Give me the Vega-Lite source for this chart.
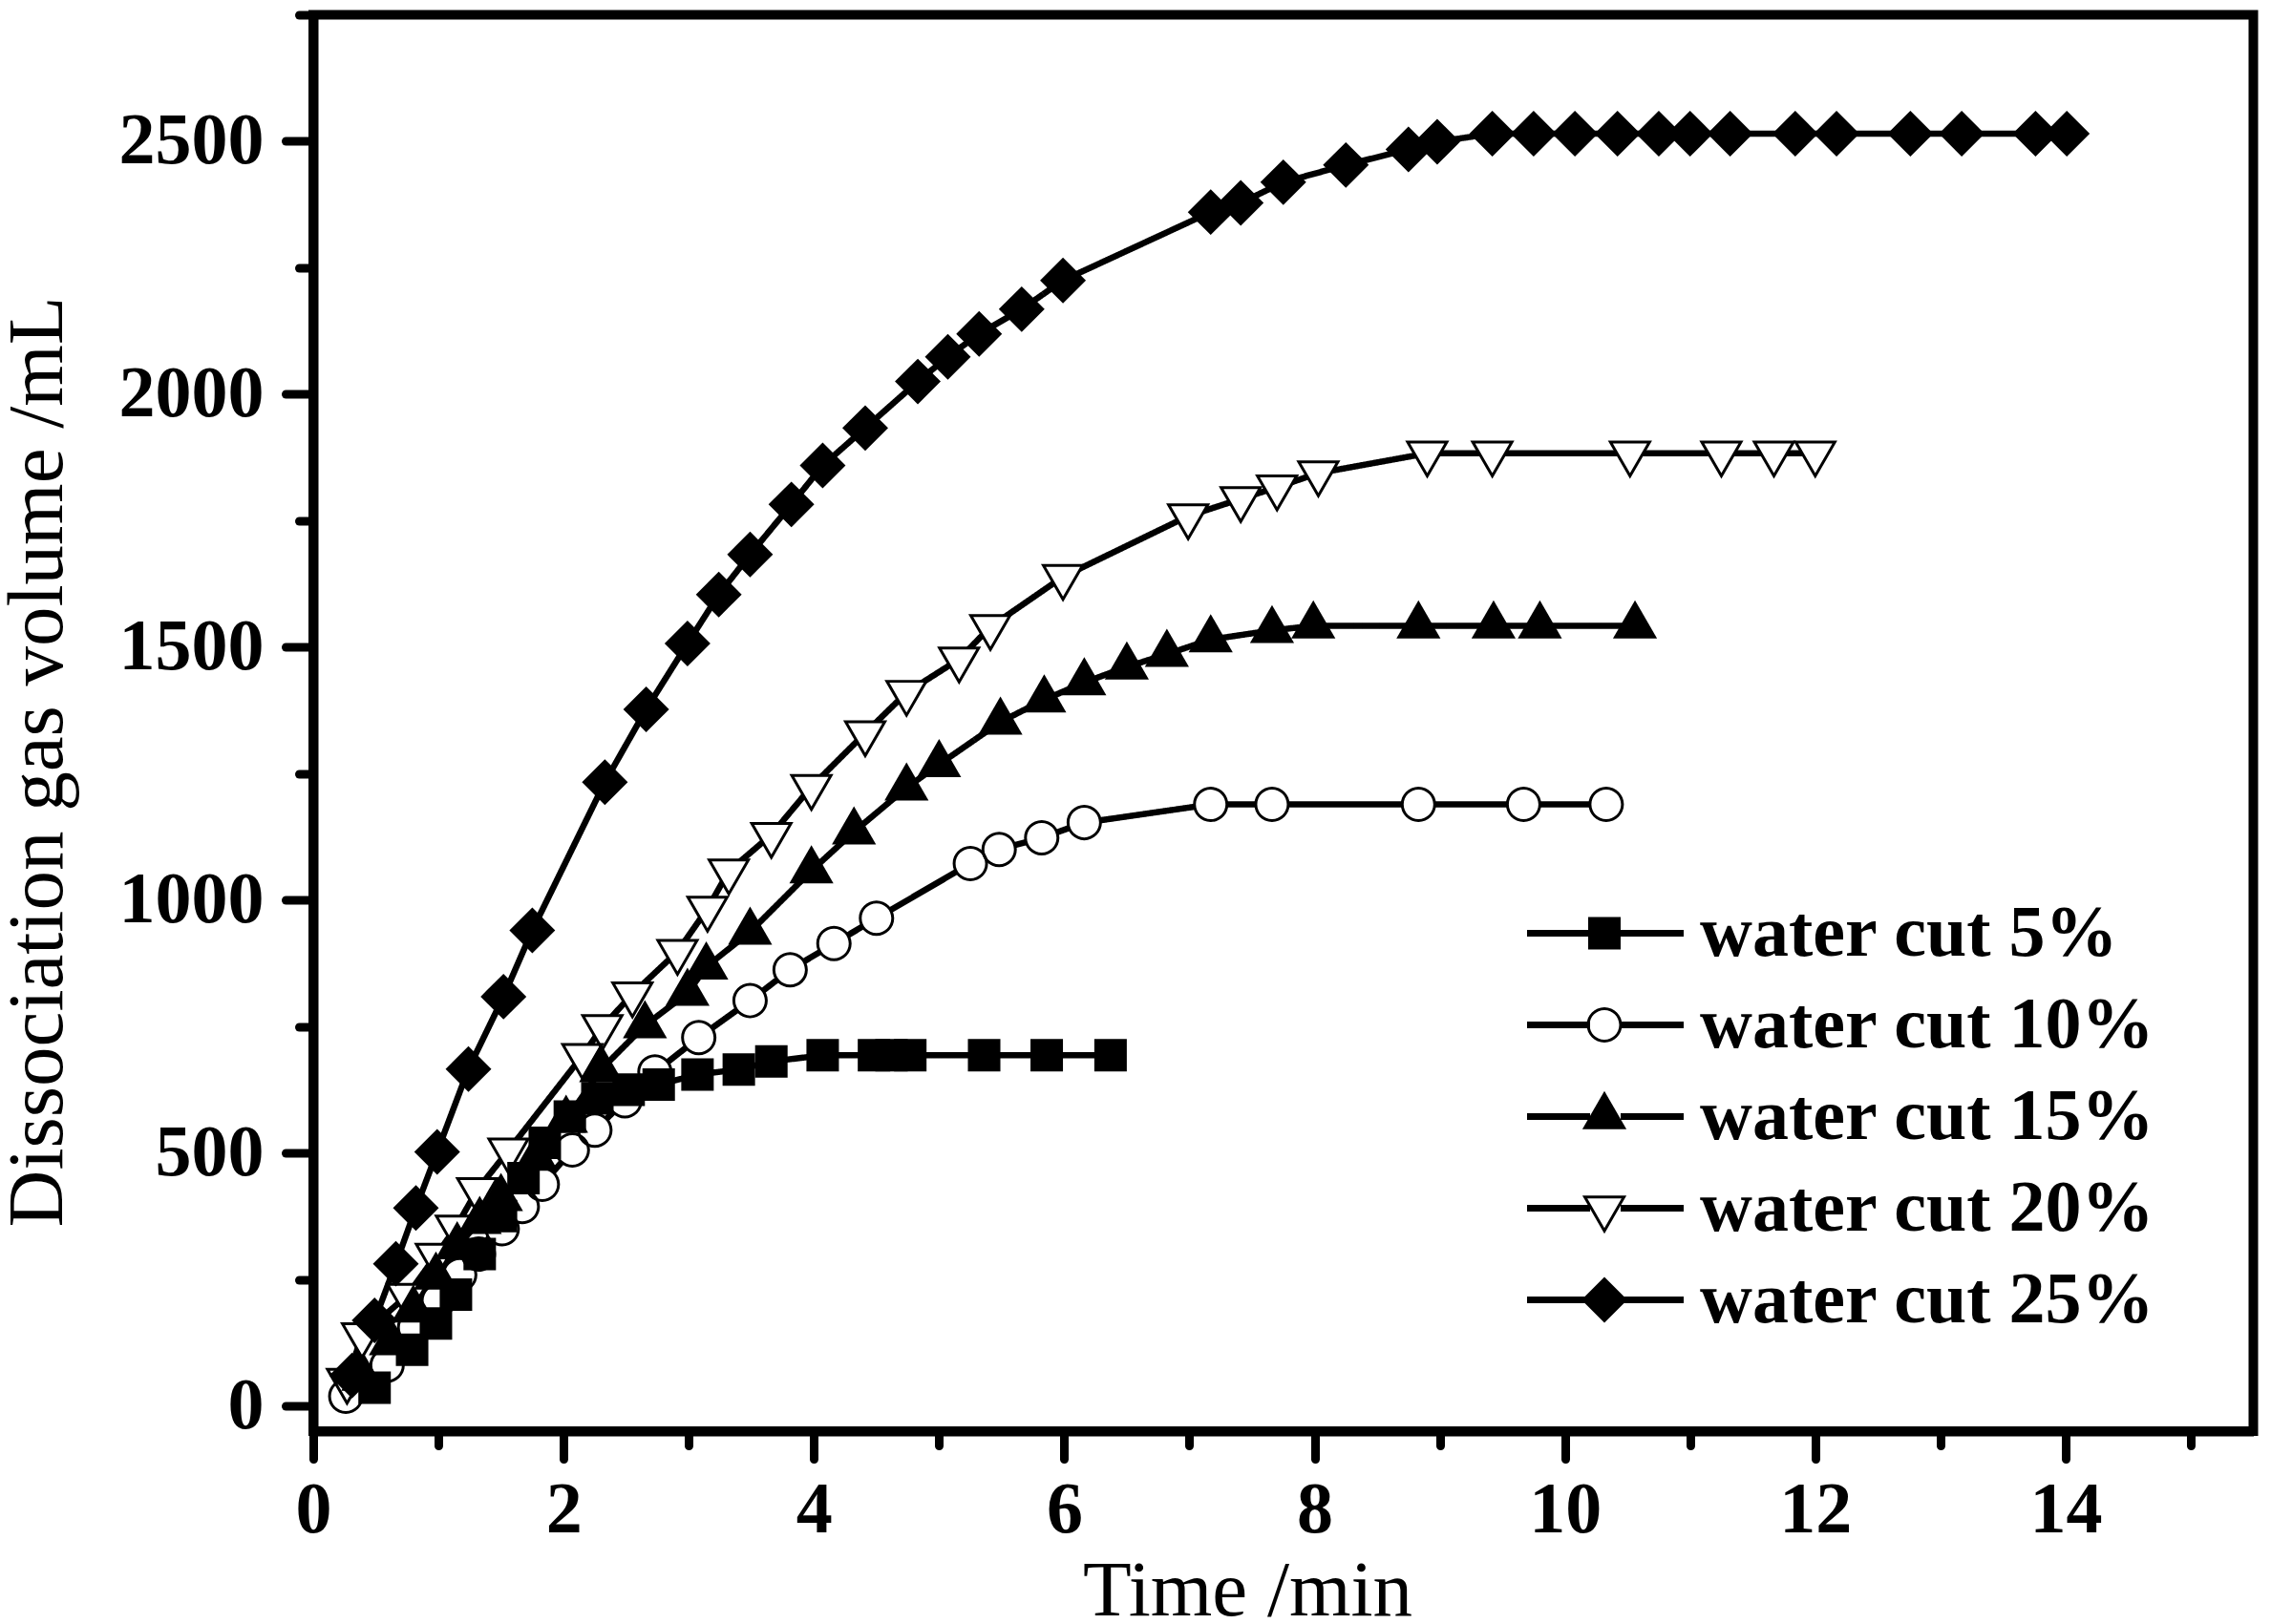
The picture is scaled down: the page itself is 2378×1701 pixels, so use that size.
{
  "$schema": "https://vega.github.io/schema/vega-lite/v6.json",
  "autosize": {"type": "none"},
  "padding": {"left": 328, "top": 15.5, "right": 18.5, "bottom": 202},
  "width": 2031.5,
  "height": 1483.5,
  "background": "white",
  "data": {
    "values": [
      {"series": "water cut 5%", "t": 0.49, "v": 36},
      {"series": "water cut 5%", "t": 0.79, "v": 111},
      {"series": "water cut 5%", "t": 0.98, "v": 163},
      {"series": "water cut 5%", "t": 1.14, "v": 220},
      {"series": "water cut 5%", "t": 1.33, "v": 300},
      {"series": "water cut 5%", "t": 1.5, "v": 375},
      {"series": "water cut 5%", "t": 1.68, "v": 450},
      {"series": "water cut 5%", "t": 1.85, "v": 520},
      {"series": "water cut 5%", "t": 2.05, "v": 572},
      {"series": "water cut 5%", "t": 2.27, "v": 608},
      {"series": "water cut 5%", "t": 2.52, "v": 625},
      {"series": "water cut 5%", "t": 2.76, "v": 635},
      {"series": "water cut 5%", "t": 3.07, "v": 655},
      {"series": "water cut 5%", "t": 3.4, "v": 665},
      {"series": "water cut 5%", "t": 3.66, "v": 681},
      {"series": "water cut 5%", "t": 4.07, "v": 693},
      {"series": "water cut 5%", "t": 4.48, "v": 693},
      {"series": "water cut 5%", "t": 4.62, "v": 693},
      {"series": "water cut 5%", "t": 4.77, "v": 693},
      {"series": "water cut 5%", "t": 5.36, "v": 693},
      {"series": "water cut 5%", "t": 5.86, "v": 693},
      {"series": "water cut 5%", "t": 6.37, "v": 693},
      {"series": "water cut 10%", "t": 0.26, "v": 19},
      {"series": "water cut 10%", "t": 0.59, "v": 80},
      {"series": "water cut 10%", "t": 0.81, "v": 155},
      {"series": "water cut 10%", "t": 1.0, "v": 208},
      {"series": "water cut 10%", "t": 1.17, "v": 259},
      {"series": "water cut 10%", "t": 1.32, "v": 300},
      {"series": "water cut 10%", "t": 1.51, "v": 350},
      {"series": "water cut 10%", "t": 1.67, "v": 394},
      {"series": "water cut 10%", "t": 1.83, "v": 438},
      {"series": "water cut 10%", "t": 2.07, "v": 506},
      {"series": "water cut 10%", "t": 2.25, "v": 545},
      {"series": "water cut 10%", "t": 2.49, "v": 603},
      {"series": "water cut 10%", "t": 2.73, "v": 660},
      {"series": "water cut 10%", "t": 3.08, "v": 728},
      {"series": "water cut 10%", "t": 3.49, "v": 801},
      {"series": "water cut 10%", "t": 3.81, "v": 862},
      {"series": "water cut 10%", "t": 4.16, "v": 914},
      {"series": "water cut 10%", "t": 4.5, "v": 964},
      {"series": "water cut 10%", "t": 5.25, "v": 1072},
      {"series": "water cut 10%", "t": 5.48, "v": 1100},
      {"series": "water cut 10%", "t": 5.82, "v": 1123},
      {"series": "water cut 10%", "t": 6.16, "v": 1153},
      {"series": "water cut 10%", "t": 7.17, "v": 1189},
      {"series": "water cut 10%", "t": 7.66, "v": 1189},
      {"series": "water cut 10%", "t": 8.83, "v": 1189},
      {"series": "water cut 10%", "t": 9.67, "v": 1189},
      {"series": "water cut 10%", "t": 10.33, "v": 1189},
      {"series": "water cut 15%", "t": 0.4, "v": 55},
      {"series": "water cut 15%", "t": 0.62, "v": 125},
      {"series": "water cut 15%", "t": 0.8, "v": 190},
      {"series": "water cut 15%", "t": 0.98, "v": 255},
      {"series": "water cut 15%", "t": 1.15, "v": 315},
      {"series": "water cut 15%", "t": 1.33, "v": 365},
      {"series": "water cut 15%", "t": 1.5, "v": 410},
      {"series": "water cut 15%", "t": 1.78, "v": 490},
      {"series": "water cut 15%", "t": 2.02, "v": 565},
      {"series": "water cut 15%", "t": 2.3, "v": 665},
      {"series": "water cut 15%", "t": 2.65, "v": 752},
      {"series": "water cut 15%", "t": 2.99, "v": 816},
      {"series": "water cut 15%", "t": 3.14, "v": 868},
      {"series": "water cut 15%", "t": 3.49, "v": 937},
      {"series": "water cut 15%", "t": 3.98, "v": 1058},
      {"series": "water cut 15%", "t": 4.32, "v": 1135},
      {"series": "water cut 15%", "t": 4.74, "v": 1222},
      {"series": "water cut 15%", "t": 5.0, "v": 1268},
      {"series": "water cut 15%", "t": 5.49, "v": 1352},
      {"series": "water cut 15%", "t": 5.84, "v": 1396},
      {"series": "water cut 15%", "t": 6.16, "v": 1430},
      {"series": "water cut 15%", "t": 6.5, "v": 1461},
      {"series": "water cut 15%", "t": 6.82, "v": 1486},
      {"series": "water cut 15%", "t": 7.17, "v": 1515},
      {"series": "water cut 15%", "t": 7.66, "v": 1533},
      {"series": "water cut 15%", "t": 7.99, "v": 1542},
      {"series": "water cut 15%", "t": 8.83, "v": 1542},
      {"series": "water cut 15%", "t": 9.43, "v": 1542},
      {"series": "water cut 15%", "t": 9.8, "v": 1542},
      {"series": "water cut 15%", "t": 10.56, "v": 1542},
      {"series": "water cut 20%", "t": 0.27, "v": 50},
      {"series": "water cut 20%", "t": 0.39, "v": 140},
      {"series": "water cut 20%", "t": 0.75, "v": 218},
      {"series": "water cut 20%", "t": 0.98, "v": 297},
      {"series": "water cut 20%", "t": 1.14, "v": 353},
      {"series": "water cut 20%", "t": 1.31, "v": 427},
      {"series": "water cut 20%", "t": 1.56, "v": 505},
      {"series": "water cut 20%", "t": 2.15, "v": 692},
      {"series": "water cut 20%", "t": 2.31, "v": 749},
      {"series": "water cut 20%", "t": 2.55, "v": 814},
      {"series": "water cut 20%", "t": 2.91, "v": 898},
      {"series": "water cut 20%", "t": 3.15, "v": 983},
      {"series": "water cut 20%", "t": 3.32, "v": 1057},
      {"series": "water cut 20%", "t": 3.66, "v": 1129},
      {"series": "water cut 20%", "t": 3.98, "v": 1224},
      {"series": "water cut 20%", "t": 4.41, "v": 1330},
      {"series": "water cut 20%", "t": 4.74, "v": 1410},
      {"series": "water cut 20%", "t": 5.16, "v": 1476},
      {"series": "water cut 20%", "t": 5.41, "v": 1540},
      {"series": "water cut 20%", "t": 5.99, "v": 1639},
      {"series": "water cut 20%", "t": 6.99, "v": 1759},
      {"series": "water cut 20%", "t": 7.41, "v": 1793},
      {"series": "water cut 20%", "t": 7.7, "v": 1816},
      {"series": "water cut 20%", "t": 8.03, "v": 1844},
      {"series": "water cut 20%", "t": 8.9, "v": 1883},
      {"series": "water cut 20%", "t": 9.42, "v": 1883},
      {"series": "water cut 20%", "t": 10.52, "v": 1883},
      {"series": "water cut 20%", "t": 11.25, "v": 1883},
      {"series": "water cut 20%", "t": 11.67, "v": 1883},
      {"series": "water cut 20%", "t": 12.0, "v": 1883},
      {"series": "water cut 25%", "t": 0.31, "v": 60},
      {"series": "water cut 25%", "t": 0.49, "v": 169},
      {"series": "water cut 25%", "t": 0.66, "v": 281},
      {"series": "water cut 25%", "t": 0.82, "v": 391},
      {"series": "water cut 25%", "t": 0.99, "v": 502},
      {"series": "water cut 25%", "t": 1.24, "v": 666},
      {"series": "water cut 25%", "t": 1.52, "v": 809},
      {"series": "water cut 25%", "t": 1.75, "v": 940},
      {"series": "water cut 25%", "t": 2.33, "v": 1233},
      {"series": "water cut 25%", "t": 2.66, "v": 1377},
      {"series": "water cut 25%", "t": 2.99, "v": 1507},
      {"series": "water cut 25%", "t": 3.24, "v": 1604},
      {"series": "water cut 25%", "t": 3.49, "v": 1683},
      {"series": "water cut 25%", "t": 3.82, "v": 1782},
      {"series": "water cut 25%", "t": 4.07, "v": 1859},
      {"series": "water cut 25%", "t": 4.41, "v": 1933},
      {"series": "water cut 25%", "t": 4.83, "v": 2025},
      {"series": "water cut 25%", "t": 5.07, "v": 2074},
      {"series": "water cut 25%", "t": 5.32, "v": 2119},
      {"series": "water cut 25%", "t": 5.66, "v": 2168},
      {"series": "water cut 25%", "t": 5.99, "v": 2225},
      {"series": "water cut 25%", "t": 7.17, "v": 2360},
      {"series": "water cut 25%", "t": 7.41, "v": 2378},
      {"series": "water cut 25%", "t": 7.75, "v": 2419},
      {"series": "water cut 25%", "t": 8.25, "v": 2453},
      {"series": "water cut 25%", "t": 8.75, "v": 2484},
      {"series": "water cut 25%", "t": 8.98, "v": 2499},
      {"series": "water cut 25%", "t": 9.42, "v": 2515},
      {"series": "water cut 25%", "t": 9.75, "v": 2515},
      {"series": "water cut 25%", "t": 10.08, "v": 2515},
      {"series": "water cut 25%", "t": 10.42, "v": 2515},
      {"series": "water cut 25%", "t": 10.75, "v": 2515},
      {"series": "water cut 25%", "t": 11.0, "v": 2515},
      {"series": "water cut 25%", "t": 11.32, "v": 2515},
      {"series": "water cut 25%", "t": 11.84, "v": 2515},
      {"series": "water cut 25%", "t": 12.17, "v": 2515},
      {"series": "water cut 25%", "t": 12.76, "v": 2515},
      {"series": "water cut 25%", "t": 13.17, "v": 2515},
      {"series": "water cut 25%", "t": 13.76, "v": 2515},
      {"series": "water cut 25%", "t": 14.01, "v": 2515}
    ]
  },
  "layer": [
    {
      "mark": {"type": "line", "color": "black", "strokeWidth": 6.5},
      "encoding": {
        "x": {
          "field": "t", "type": "quantitative",
          "scale": {"domain": [0, 15.5], "nice": false, "zero": false},
          "axis": {
            "orient": "bottom",
            "values": [0, 2, 4, 6, 8, 10, 12, 14],
            "format": "d",
            "tickSize": 29, "labelPadding": 16,
            "title": "Time /min",
            "titleX": 978, "titleY": 192, "titleBaseline": "alphabetic", "titleAlign": "center"
          }
        },
        "y": {
          "field": "v", "type": "quantitative",
          "scale": {"domain": [-50, 2750], "nice": false, "zero": false},
          "axis": {
            "orient": "left",
            "values": [0, 500, 1000, 1500, 2000, 2500],
            "format": "d",
            "tickSize": 29, "labelPadding": 23,
            "title": "Dissociation gas volume /mL",
            "titleX": -264, "titleY": 782, "titleAngle": 270, "titleBaseline": "alphabetic", "titleAlign": "center"
          }
        },
        "strokeDash": {
          "field": "series", "type": "nominal", "sort": null,
          "scale": {"range": [[1, 0], [1, 0], [1, 0], [1, 0], [1, 0]]},
          "legend": {
            "orient": "none", "legendX": 1315, "legendY": 924,
            "title": null, "padding": 0,
            "symbolType": "M-4,0L-0.78,0M0.78,0L4,0", "symbolSize": 1681,
            "symbolStrokeWidth": 7, "symbolStrokeColor": "black",
            "labelOpacity": 0, "labelFont": "Liberation Serif", "labelFontWeight": "bold", "labelFontSize": 76,
            "labelOffset": 62, "rowPadding": 20
          }
        }
      }
    },
    {
      "mark": {"type": "point", "filled": true, "fill": "white", "strokeWidth": 0, "opacity": 1, "size": 1936},
      "encoding": {
        "x": {
          "field": "t", "type": "quantitative",
          "axis": {"orient": "bottom", "values": [1, 3, 5, 7, 9, 11, 13, 15], "tickSize": 15, "labels": false, "domain": false, "title": null}
        },
        "y": {
          "field": "v", "type": "quantitative",
          "axis": {"orient": "left", "values": [250, 750, 1250, 1750, 2250, 2750], "tickSize": 15, "labels": false, "domain": false, "title": null}
        },
        "shape": {
          "field": "series", "type": "nominal",
          "scale": {
            "domain": ["water cut 5%", "water cut 10%", "water cut 15%", "water cut 20%", "water cut 25%"],
            "range": [
              "M-0.705,-0.705L0.705,-0.705L0.705,0.705L-0.705,0.705Z",
              "M-0.78,0A0.78,0.78 0 1,0 0.78,0A0.78,0.78 0 1,0 -0.78,0Z",
              "M0,-1.076L-0.932,0.538L0.932,0.538Z",
              "M0,1.1L-0.95,-0.55L0.95,-0.55Z",
              "M-1,0L0,-1L1,0L0,1Z"
            ]
          },
          "legend": null
        }
      }
    },
    {
      "mark": {"type": "point", "filled": true, "color": "black", "opacity": 1, "size": 1936},
      "encoding": {
        "x": {"field": "t", "type": "quantitative", "axis": null},
        "y": {"field": "v", "type": "quantitative", "axis": null},
        "shape": {
          "field": "series", "type": "nominal",
          "scale": {
            "domain": ["water cut 5%", "water cut 10%", "water cut 15%", "water cut 20%", "water cut 25%"],
            "range": [
              "M-0.773,-0.773L0.773,-0.773L0.773,0.773L-0.773,0.773Z",
              "M-0.841,0A0.841,0.841 0 1,0 0.841,0A0.841,0.841 0 1,0 -0.841,0Z M-0.705,0A0.705,0.705 0 1,1 0.705,0A0.705,0.705 0 1,1 -0.705,0Z",
              "M0,-1.212L-1.05,0.606L1.05,0.606Z",
              "M0,1.212L-1.05,-0.606L1.05,-0.606Z M0,0.94L0.815,-0.47L-0.815,-0.47Z",
              "M-1.09,0L0,-1.09L1.09,0L0,1.09Z"
            ]
          },
          "legend": {
            "orient": "none", "legendX": 1314, "legendY": 924,
            "title": null, "padding": 0,
            "symbolSize": 1936, "symbolStrokeWidth": 0,
            "symbolFillColor": "black", "symbolOpacity": 1,
            "labelFont": "Liberation Serif", "labelFontWeight": "bold", "labelFontSize": 76, "labelColor": "black",
            "labelOffset": 62, "rowPadding": 20
          }
        }
      }
    }
  ],
  "resolve": {
    "axis": {"x": "independent", "y": "independent"},
    "scale": {"shape": "independent"}
  },
  "config": {
    "font": "Liberation Serif",
    "view": {"stroke": "black", "strokeWidth": 10},
    "axis": {
      "domainColor": "black", "domainWidth": 10,
      "tickColor": "black", "tickWidth": 9, "tickCap": "round",
      "grid": false,
      "labelFont": "Liberation Serif", "labelFontWeight": "bold", "labelFontSize": 76, "labelColor": "black",
      "labelFlush": false, "labelOverlap": false,
      "titleFont": "Liberation Serif", "titleFontWeight": "normal", "titleFontSize": 83, "titleColor": "black"
    },
    "legend": {"labelLimit": 1000}
  }
}
